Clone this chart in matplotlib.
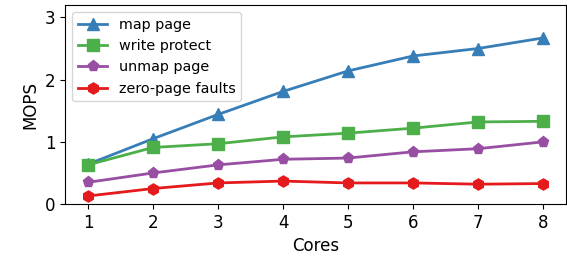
import matplotlib
matplotlib.use("Agg")
import matplotlib.pyplot as plt

cores = [1, 2, 3, 4, 5, 6, 7, 8]
map_page = [0.64, 1.05, 1.44, 1.81, 2.14, 2.38, 2.50, 2.67]
write_protect = [0.63, 0.91, 0.97, 1.08, 1.14, 1.22, 1.32, 1.33]
unmap_page = [0.35, 0.50, 0.63, 0.72, 0.74, 0.84, 0.89, 1.00]
zero_page = [0.13, 0.25, 0.34, 0.37, 0.34, 0.34, 0.32, 0.33]

fig = plt.figure(figsize=(5.67, 2.6), dpi=100)
ax = fig.add_axes([0.115, 0.215, 0.883, 0.766])

ax.plot(cores, map_page, color="#377eb8", marker="^", markersize=8, linewidth=2, label="map page")
ax.plot(cores, write_protect, color="#4daf4a", marker="s", markersize=8, linewidth=2, label="write protect")
ax.plot(cores, unmap_page, color="#984ea3", marker="p", markersize=8, linewidth=2, label="unmap page")
ax.plot(cores, zero_page, color="#e41a1c", marker="h", markersize=8, linewidth=2, label="zero-page faults")

ax.set_ylim(0, 3.2)
ax.set_yticks([0, 1, 2, 3])
ax.set_xticks(cores)
ax.tick_params(labelsize=12)
ax.set_xlabel("Cores", fontsize=12)
ax.set_ylabel("MOPS", fontsize=12)
ax.legend(loc="upper left", fontsize=10.4)

fig.savefig("out.png", dpi=100)
